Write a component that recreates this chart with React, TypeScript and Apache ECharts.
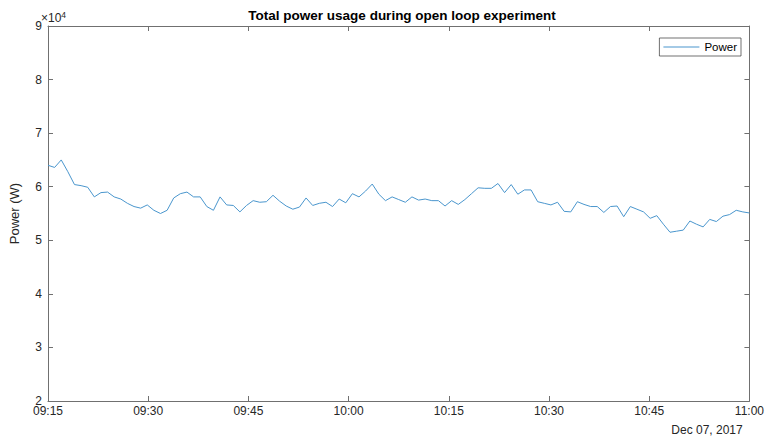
import React, { useEffect, useRef } from "react";
import * as echarts from "echarts";

// Time window (minutes since midnight) and sampled power (W)
const startMinute = 9 * 60 + 15; // 09:15
const endMinute = 11 * 60; // 11:00
const tickMinutes = [555, 570, 585, 600, 615, 630, 645, 660];
const yTicksW = [20000, 30000, 40000, 50000, 60000, 70000, 80000, 90000];
const seriesName = "Power";
const dateLabel = "Dec 07, 2017";
const titleText = "Total power usage during open loop experiment";

const powerW = [
  64000, 63600, 65000, 62800, 60400, 60200, 59900, 58100, 58900, 59000,
  58100, 57700, 56900, 56300, 56000, 56600, 55600, 55000, 55600, 57900,
  58700, 59000, 58100, 58100, 56300, 55600, 58100, 56600, 56500, 55300,
  56500, 57400, 57100, 57200, 58400, 57300, 56400, 55800, 56200, 57900,
  56500, 56900, 57100, 56300, 57700, 57000, 58700, 58100, 59200, 60500,
  58600, 57400, 58100, 57600, 57100, 58100, 57500, 57700, 57400, 57400,
  56400, 57400, 56700, 57600, 58700, 59800, 59700, 59700, 60600, 58900,
  60400, 58600, 59400, 59400, 57200, 56900, 56600, 57100, 55400, 55300,
  57200, 56700, 56300, 56300, 55200, 56300, 56400, 54400, 56300, 55800,
  55300, 54100, 54600, 53000, 51500, 51700, 51900, 53600, 53000, 52500,
  53900, 53500, 54500, 54800, 55600, 55300, 55100,
];

const FONT = "'Liberation Sans', Arial, Helvetica, sans-serif";
const AXIS_COLOR = "#707070";
const TEXT_COLOR = "#262626";

const fmtTime = (m: number) => {
  const h = Math.floor(m / 60);
  const mm = Math.round(m - h * 60);
  return `${String(h).padStart(2, "0")}:${String(mm).padStart(2, "0")}`;
};

export default function App() {
  const ref = useRef<HTMLDivElement>(null);

  useEffect(() => {
    if (!ref.current) return;
    const chart = echarts.init(ref.current, undefined, { renderer: "svg" });
    const n = powerW.length;
    const step = (endMinute - startMinute) / (n - 1);
    const data = powerW.map((v, i) => [startMinute + i * step, v]);

    const xMin = tickMinutes[0];
    const xMax = tickMinutes[tickMinutes.length - 1];
    const yMin = yTicksW[0];
    const yMax = yTicksW[yTicksW.length - 1];

    const lineStyle = { color: AXIS_COLOR, width: 1 };
    const baseX = {
      type: "value",
      min: xMin,
      max: xMax,
      interval: 15,
      splitLine: { show: false },
      axisLine: { show: true, lineStyle },
      axisTick: { show: true, inside: true, length: 5, lineStyle },
    };
    const baseY = {
      type: "value",
      min: yMin,
      max: yMax,
      interval: 10000,
      splitLine: { show: false },
      axisLine: { show: true, lineStyle },
      axisTick: { show: true, inside: true, length: 5, lineStyle },
    };

    chart.setOption({
      animation: false,
      backgroundColor: "#ffffff",
      title: {
        text: titleText,
        left: 397,
        top: 3,
        textAlign: "center",
        textStyle: {
          fontFamily: FONT,
          fontSize: 13.5,
          fontWeight: "bold",
          color: "#000000",
        },
      },
      grid: { left: 41, right: 14, top: 26, bottom: 39 },
      legend: {
        data: [{ name: seriesName, icon: "rect" }],
        right: 26,
        top: 38,
        itemWidth: 36,
        itemHeight: 1,
        padding: [3, 4, 3, 4],
        borderColor: "#333333",
        borderWidth: 0.7,
        backgroundColor: "#ffffff",
        textStyle: { fontFamily: FONT, fontSize: 11.5, color: "#000000" },
      },
      xAxis: [
        {
          ...baseX,
          position: "bottom",
          axisLabel: {
            show: true,
            color: TEXT_COLOR,
            fontFamily: FONT,
            fontSize: 12,
            margin: 4,
            showMinLabel: true,
            showMaxLabel: true,
            formatter: (v: number) => fmtTime(v),
          },
        },
        {
          ...baseX,
          position: "top",
          axisLabel: { show: false },
        },
      ],
      yAxis: [
        {
          ...baseY,
          position: "left",
          name: "Power (W)",
          nameLocation: "middle",
          nameGap: 27,
          nameRotate: 90,
          nameTextStyle: { fontFamily: FONT, fontSize: 13, color: TEXT_COLOR },
          axisLabel: {
            show: true,
            color: TEXT_COLOR,
            fontFamily: FONT,
            fontSize: 12,
            margin: 6,
            showMinLabel: true,
            showMaxLabel: true,
            formatter: (v: number) => String(v / 10000),
          },
        },
        {
          ...baseY,
          position: "right",
          axisLabel: { show: false },
        },
      ],
      graphic: [
        {
          type: "text",
          left: 41,
          top: 10,
          style: {
            text: "{a|×10}{b|4}",
            fontFamily: FONT,
            fill: TEXT_COLOR,
            rich: {
              a: { fontSize: 12, fontFamily: FONT, fill: TEXT_COLOR, verticalAlign: "bottom", lineHeight: 14 },
              b: { fontSize: 8.5, fontFamily: FONT, fill: TEXT_COLOR, verticalAlign: "top", lineHeight: 14 },
            },
          },
        },
        {
          type: "text",
          x: 707,
          y: 430,
          style: {
            text: dateLabel,
            fontFamily: FONT,
            fontSize: 12,
            fill: TEXT_COLOR,
            align: "center",
            verticalAlign: "middle",
          },
        },
      ],
      series: [
        {
          name: seriesName,
          type: "line",
          xAxisIndex: 0,
          yAxisIndex: 0,
          data,
          symbol: "none",
          showSymbol: false,
          clip: true,
          lineStyle: { color: "#4a96cd", width: 1 },
          itemStyle: { color: "#4a96cd" },
        },
      ],
    });

    return () => chart.dispose();
  }, []);

  return (
    <div
      ref={ref}
      style={{
        position: "fixed",
        left: 0,
        top: 0,
        width: 767,
        height: 440,
        background: "#ffffff",
      }}
    />
  );
}
